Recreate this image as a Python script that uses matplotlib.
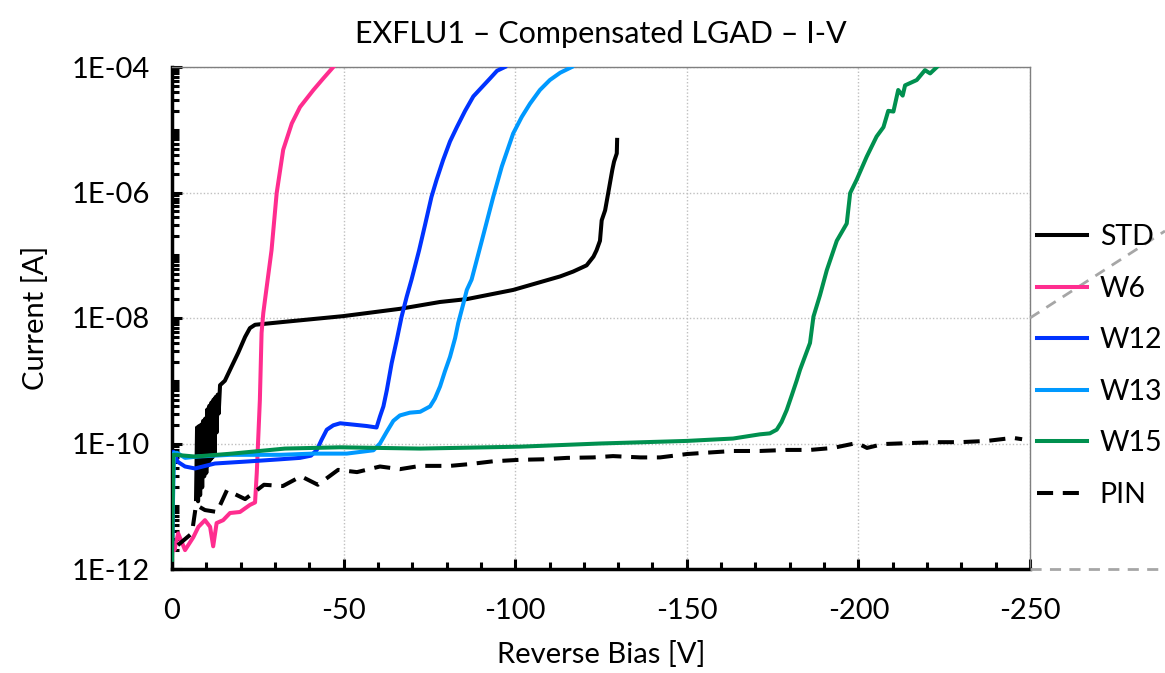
import numpy as np
import matplotlib.pyplot as plt
from matplotlib.lines import Line2D
from matplotlib.ticker import FixedLocator, FuncFormatter, MultipleLocator

plt.rcParams['font.family'] = ['Lato', 'DejaVu Sans']
plt.rcParams['axes.unicode_minus'] = False

# Reverse bias [V] and current [A]
std_v = [-7.0, -7.3, -7.6, -7.9, -8.2, -8.5, -8.8, -9.1, -9.4, -9.7, -10.0, -10.3, -10.6, -10.9,
         -11.2, -11.5, -11.8, -12.1, -12.4, -12.7, -13.0, -13.3, -13.6, -14.0,
         -15.4, -17.4, -19.3, -21.3, -22.7, -24.2, -32.9, -49.8, -66.4, -78.1, -85.9, -99.4,
         -113.1, -116.9, -120.8, -122.8, -123.7, -124.7, -125.2, -126.2, -127.1, -127.6, -128.3,
         -128.8, -129.6, -129.7]
std_i = [1.3e-11, 1.8e-10, 1.2e-11, 1.9e-10, 1.5e-11, 2.0e-10, 2.0e-11, 2.3e-10, 3.0e-11, 2.5e-10,
         3.4e-11, 3.5e-10, 4.5e-11, 4.0e-10, 5.5e-11, 4.5e-10, 6.0e-11, 5.0e-10, 7.0e-11, 5.5e-10,
         1.5e-10, 6.0e-10, 3.0e-10, 8.5e-10,
         1.0e-9, 1.7e-9, 2.8e-9, 5.0e-9, 6.9e-9, 7.8e-9,
         8.7e-9, 1.07e-8, 1.4e-8, 1.8e-8, 2.0e-8, 2.8e-8, 4.6e-8, 5.5e-8, 6.9e-8, 9.5e-8, 1.2e-7,
         1.7e-7, 3.6e-7, 5.2e-7, 9.8e-7, 1.4e-6, 2.3e-6, 3.1e-6, 4.2e-6, 6.9e-6]

w6_v = [0, -0.4, -0.7, -1.8, -3.8, -6.2, -7.7, -9.6, -11.1, -12.0, -13.0, -14.9, -16.9, -19.8,
        -22.7, -24.2, -24.7, -25.6, -26.1, -26.6, -27.1, -29.0, -30.5, -32.4, -34.9, -37.3,
        -41.2, -44.0, -47.0]
w6_i = [2.0e-12, 2.6e-12, 2.0e-12, 3.7e-12, 2.0e-12, 3.2e-12, 4.7e-12, 6.0e-12, 4.7e-12, 2.3e-12,
        5.4e-12, 6.0e-12, 7.8e-12, 8.1e-12, 1.05e-11, 1.15e-11, 3.4e-11, 4.9e-10, 5.8e-9, 1.2e-8,
        1.95e-8, 1.2e-7, 9.8e-7, 4.8e-6, 1.26e-5, 2.3e-5, 4.3e-5, 6.5e-5, 1.0e-4]

w12_v = [0, -0.4, -1.7, -3.8, -6.7, -12.5, -22.7, -31.5, -37.3, -40.5, -42.2, -43.6, -45.1, -47.0,
         -49.0, -52.8, -56.7, -59.6, -60.6, -61.6, -62.6, -64.0, -65.5, -66.9, -68.4, -69.8,
         -72.0, -73.7, -75.6, -77.1, -79.0, -81.0, -83.0, -85.4, -87.8, -92.7, -94.7, -97.0]
w12_i = [1.7e-12, 7.4e-11, 5.1e-11, 4.3e-11, 4.0e-11, 4.8e-11, 5.2e-11, 5.6e-11, 5.9e-11, 6.4e-11,
         7.9e-11, 1.15e-10, 1.66e-10, 1.95e-10, 2.1e-10, 2.0e-10, 1.9e-10, 1.8e-10, 2.7e-10,
         3.9e-10, 7.1e-10, 1.9e-9, 4.5e-9, 1.05e-8, 2.2e-8, 4.1e-8, 1.2e-7, 3.0e-7, 8.5e-7,
         1.6e-6, 3.3e-6, 6.5e-6, 1.1e-5, 2.0e-5, 3.4e-5, 6.6e-5, 8.7e-5, 1.0e-4]

w13_v = [0, -0.6, -1.5, -3.8, -7.6, -16.9, -31.5, -41.1, -50.9, -58.7, -60.6, -62.6, -64.5, -66.4,
         -69.3, -72.3, -75.2, -76.6, -78.1, -79.5, -81.0, -82.5, -83.4, -84.9, -85.9, -87.3,
         -90.5, -93.6, -96.1, -99.4, -101.9, -104.3, -107.2, -110.1, -113.1, -116.5]
w13_i = [2.4e-12, 7.1e-11, 7.1e-11, 5.9e-11, 6.2e-11, 6.6e-11, 6.6e-11, 6.9e-11, 6.9e-11, 7.8e-11,
         1.0e-10, 1.55e-10, 2.3e-10, 2.8e-10, 3.1e-10, 3.2e-10, 3.9e-10, 5.2e-10, 8.1e-10, 1.4e-9,
         2.4e-9, 4.8e-9, 8.3e-9, 1.7e-8, 2.8e-8, 4.1e-8, 1.9e-7, 8.5e-7, 2.6e-6, 8.7e-6, 1.6e-5,
         2.6e-5, 4.3e-5, 6.2e-5, 8.1e-5, 1.0e-4]

w15_v = [0, -0.4, -0.9, -6.7, -17.5, -32.9, -49.0, -72.3, -101.4, -124.7, -150.1, -163.5, -171.3,
         -174.2, -176.2, -177.6, -179.1, -180.6, -182.0, -183.0, -185.9, -186.9, -188.8, -190.8,
         -193.7, -196.6, -197.6, -199.5, -202.4, -205.3, -207.3, -208.7, -210.2, -211.6, -212.9,
         -213.6, -217.0, -219.4, -220.9, -223.3]
w15_i = [1.4e-12, 6.6e-11, 6.6e-11, 6.2e-11, 6.9e-11, 8.3e-11, 8.7e-11, 8.3e-11, 8.9e-11, 1.0e-10,
         1.1e-10, 1.2e-10, 1.4e-10, 1.45e-10, 1.66e-10, 2.2e-10, 3.4e-10, 5.9e-10, 1.0e-9, 1.5e-9,
         4.0e-9, 1.05e-8, 2.3e-8, 5.8e-8, 1.7e-7, 3.2e-7, 9.8e-7, 1.6e-6, 3.7e-6, 7.8e-6, 1.1e-5,
         2.0e-5, 1.95e-5, 4.3e-5, 3.5e-5, 5.1e-5, 6.2e-5, 8.9e-5, 7.9e-5, 1.05e-4]

pin_v = [-1.7, -5.8, -7.0, -9.6, -13.1, -16.0, -21.3, -26.8, -32.3, -37.6, -42.5, -48.4, -53.9,
         -60.6, -66.4, -72.3, -81.0, -86.8, -93.5, -101.4, -108.1, -115.1, -122.7, -128.5, -136.4,
         -142.2, -150.1, -156.8, -163.5, -171.3, -179.2, -185.9, -192.6, -199.6, -202.5, -207.2,
         -215.9, -222.9, -229.6, -237.5, -245.0, -247.7]
pin_i = [2.4e-12, 3.7e-12, 1.05e-11, 8.7e-12, 8.1e-12, 1.8e-11, 1.3e-11, 2.2e-11, 2.1e-11, 3.0e-11,
         2.2e-11, 3.8e-11, 3.5e-11, 4.3e-11, 3.9e-11, 4.4e-11, 4.4e-11, 4.7e-11, 5.2e-11, 5.5e-11,
         5.6e-11, 5.9e-11, 6.0e-11, 6.3e-11, 6.0e-11, 6.0e-11, 6.8e-11, 7.2e-11, 7.6e-11, 7.6e-11,
         7.9e-11, 7.9e-11, 8.5e-11, 1.02e-10, 8.5e-11, 9.8e-11, 1.02e-10, 1.05e-10, 1.05e-10,
         1.1e-10, 1.23e-10, 1.17e-10]

fig = plt.figure(figsize=(11.65, 6.73), dpi=100)
ax = fig.add_axes([172 / 1165, 1 - 569 / 673, 858 / 1165, 502 / 673])

lw = 2.9
ax.plot(std_v, std_i, color='black', lw=lw, label='STD', zorder=3)
ax.plot(w6_v, w6_i, color='#FF2D8F', lw=lw, label='W6', zorder=3)
ax.plot(w12_v, w12_i, color='#0033FF', lw=lw, label='W12', zorder=3)
ax.plot(w13_v, w13_i, color='#0099FF', lw=lw, label='W13', zorder=3)
ax.plot(w15_v, w15_i, color='#00904F', lw=lw, label='W15', zorder=3)
ax.plot(pin_v, pin_i, color='black', lw=lw, dashes=(4, 2.4), label='PIN', zorder=3)

ax.set_yscale('log')
ax.set_xlim(0, -250)
ax.set_ylim(1e-12, 1e-4)

# y ticks: labels every two decades, small inward marks elsewhere
ax.yaxis.set_major_locator(FixedLocator([1e-12, 1e-10, 1e-8, 1e-6, 1e-4]))
ax.yaxis.set_major_formatter(FuncFormatter(lambda y, p: '1E-%02d' % round(-np.log10(y))))
minor = [m * 10.0 ** e for e in range(-12, -4) for m in range(1, 10) if not (m == 1 and e % 2 == 0)]
ax.yaxis.set_minor_locator(FixedLocator(minor))
ax.yaxis.set_minor_formatter(FuncFormatter(lambda y, p: ''))

ax.xaxis.set_major_locator(MultipleLocator(50))
ax.xaxis.set_minor_locator(MultipleLocator(10))
ax.xaxis.set_major_formatter(FuncFormatter(lambda x, p: '%d' % x))

ax.tick_params(which='both', direction='in', width=2.2, color='black',
               top=False, right=False, labelsize=21)
ax.tick_params(which='major', length=7)
ax.tick_params(which='minor', length=5)
ax.tick_params(axis='y', which='major', pad=16)
ax.tick_params(axis='x', which='major', pad=21)

ax.grid(True, which='major', color='#BFBFBF', linestyle=(0, (1, 1.5)), lw=1, zorder=0)
ax.set_axisbelow(True)

for s in ['top', 'right']:
    ax.spines[s].set_color('#7F7F7F')
    ax.spines[s].set_linewidth(1)
for s in ['left', 'bottom']:
    ax.spines[s].set_color('black')
    ax.spines[s].set_linewidth(2.5)

ax.set_title('EXFLU1 – Compensated LGAD – I-V', fontsize=22, pad=17)
ax.set_xlabel('Reverse Bias [V]', fontsize=21, labelpad=12)
ax.set_ylabel('Current [A]', fontsize=21, labelpad=16)

fig.legend(loc='center left', bbox_to_anchor=(1037 / 1165, 1 - 366 / 673), frameon=False,
           fontsize=20.5, handlelength=1.75, handletextpad=0.45, labelspacing=0.9,
           borderpad=0, borderaxespad=0)

# grey dashed connector lines right of the plot
fig.add_artist(Line2D([1030 / 1165, 1165 / 1165], [1 - 318 / 673, 1 - 231 / 673],
                      transform=fig.transFigure, color='#A6A6A6', lw=2, dashes=(4, 3)))
fig.add_artist(Line2D([1030 / 1165, 1165 / 1165], [1 - 569 / 673, 1 - 569 / 673],
                      transform=fig.transFigure, color='#A6A6A6', lw=2, dashes=(4, 3)))

fig.savefig('out.png', dpi=100)
